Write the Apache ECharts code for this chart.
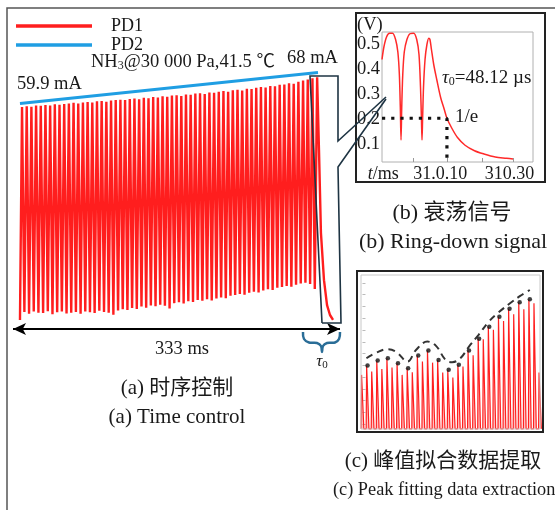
<!DOCTYPE html>
<html><head><meta charset="utf-8">
<script src="https://cdn.jsdelivr.net/npm/echarts@6/dist/echarts.min.js"></script>
<style>html,body{margin:0;padding:0;background:#fff}#c{width:555px;height:510px}</style>
</head><body><div id="c"></div>
<script>
// ---------- (a) time control: PD1 oscillation peaks / troughs (mA scale), PD2 ramp ----------
const legendNames = ['PD1', 'PD2'];
const firstPeakMs = 9.2;
const cycleMs = 4.77;
const startPoint = [7.1, 3.4];
const pd1Peaks = [
  59.0, 59.2, 59.1, 59.4, 59.3, 59.5, 59.4, 59.7, 59.6, 59.8,
  59.9, 60.1, 59.9, 60.2, 60.3, 60.2, 60.5, 60.6, 60.4, 60.7,
  60.8, 60.9, 60.8, 61.1, 61.2, 61.0, 61.4, 61.3, 61.6, 61.5,
  61.8, 61.7, 62.0, 62.1, 61.9, 62.3, 62.2, 62.5, 62.6, 62.4,
  62.8, 62.7, 63.0, 63.2, 63.0, 63.4, 63.5, 63.3, 63.8, 63.7,
  64.0, 64.2, 64.1, 64.5, 64.4, 64.8, 64.9, 65.2, 65.1, 65.6,
  65.9, 66.2, 66.5, 66.8];
const pd1Troughs = [
  5.5, 5.0, 5.6, 5.3, 5.2, 5.7, 4.9, 5.4, 5.6, 5.1,
  5.3, 5.5, 5.0, 5.6, 5.4, 5.2, 5.8, 5.5, 5.3, 4.8,
  5.9, 6.2, 6.0, 6.5, 6.3, 6.9, 6.6, 7.2, 7.0, 7.4,
  7.1, 6.4, 7.8, 8.0, 7.7, 8.3, 8.1, 8.6, 8.4, 8.8,
  8.5, 9.0, 9.3, 9.1, 9.7, 9.9, 10.2, 10.0, 10.5, 10.8,
  10.6, 11.1, 11.4, 11.2, 11.8, 12.0, 12.3, 12.1, 12.6, 12.9,
  13.1, 12.8, 11.5];
const decayMs = [311.6, 313.6, 316.7, 319.8, 322.8, 325.9];
const decayVal = [47.8, 26.1, 13.8, 7.3, 4.7, 3.4];
const pd2Ms = [7.1, 310.6];
const pd2Val = [59.9, 68];
const totalMs = 333;

// ---------- (b) ring-down signal ----------
const ringT = [0, 5, 12, 20, 28, 36, 42, 46, 48.5, 50.4, 52.3, 55, 59, 66, 74, 84, 92, 98, 102, 104.5, 106, 107.5, 110, 114, 119, 124, 127, 131, 137, 145, 155, 165, 172, 185, 200, 220, 245, 270, 300, 330, 347];
const ringV = [0.44, 0.49, 0.53, 0.545, 0.545, 0.52, 0.47, 0.38, 0.25, 0.118, 0.25, 0.38, 0.47, 0.52, 0.543, 0.545, 0.52, 0.46, 0.33, 0.2, 0.118, 0.2, 0.33, 0.44, 0.5, 0.525, 0.52, 0.48, 0.42, 0.36, 0.29, 0.24, 0.205, 0.165, 0.128, 0.097, 0.075, 0.062, 0.05, 0.045, 0.042];
const ringYLabels = [0.1, 0.2, 0.3, 0.4, 0.5];
const ringXTickVals = [3, 154, 338];
const ringXTickLabels = ['{i|t}/ms', '31.0.10', '310.30'];
const ringMinorTicks = [82, 172, 265, 347];
const ringLevel = 0.205;
const ringTau = 172;

// ---------- (c) peak fitting ----------
const cPeaks = [34.4, 40.3, 36.5, 43.5, 38.2, 45.0, 39.1, 41.8, 34.4, 38.6, 36.1, 46.7, 42.9, 49.9, 42.2, 43.9, 35.9, 37.6, 32.7, 40.8, 39.7, 49.9, 46.9, 57.5, 57.1, 65.0, 63.1, 71.5, 68.8, 76.6, 73.0, 80.7, 76.2, 82.6, 80.0, 35.9];
const envX = [0.78, 2.74, 5.0, 6.6, 8.9, 10.55, 12.8, 14.5, 16.4, 17.7, 19.3, 21.0, 22.9, 24.9, 26.8, 29.1, 31.1, 33.0];
const envY = [45.0, 48.6, 50.8, 49.2, 42.9, 50.3, 55.6, 52.9, 43.9, 42.5, 45.0, 52.4, 59.9, 68.3, 74.1, 80.0, 84.7, 88.5];
const cTicks = [3, 10.5, 18, 25.5, 33, 40.5, 48, 55.5, 63, 70.5, 78, 85.5, 93];

// ---------- build series data ----------
const mainData = [startPoint];
pd1Peaks.forEach((p, i) => {
  mainData.push([firstPeakMs + i * cycleMs, p]);
  if (i < pd1Troughs.length) mainData.push([firstPeakMs + (i + 0.5) * cycleMs, pd1Troughs[i]]);
});
decayMs.forEach((t, i) => mainData.push([t, decayVal[i]]));
const pd2Data = pd2Ms.map((t, i) => [t, pd2Val[i]]);
const ringData = ringT.map((t, i) => [t, ringV[i]]);
const cData = [];
cPeaks.forEach((p, i) => { cData.push([i - 0.27, 0], [i - 0.18, p], [i + 0.18, p], [i + 0.27, 0]); });
const cDots = cPeaks.map((p, i) => [i, p]).filter((d, i) => i % 2 === 1 && i < 35);
const envData = envX.map((x, i) => [x, envY[i]]);

const serif = "'Liberation Serif','Noto Sans CJK SC',serif";
const ink = '#1a1a1a';
const boxc = '#1e3443';
function T(x, y, text, size, align, extra) {
  return { type: 'text', z: 100, style: Object.assign({ x: x, y: y, text: text, fontSize: size, fontFamily: serif, fill: ink, align: align || 'left', verticalAlign: 'middle' }, extra || {}) };
}

const chart = echarts.init(document.getElementById('c'), null, { renderer: 'canvas' });
chart.setOption({
  animation: false,
  backgroundColor: '#fff',
  legend: {
    data: legendNames, orient: 'vertical', left: 11, top: 12, icon: 'rect',
    itemWidth: 76, itemHeight: 3.5, itemGap: 1,
    textStyle: { fontFamily: serif, fontSize: 18, color: ink, lineHeight: 16, padding: [2, 0, 0, 14] }
  },
  grid: [
    { left: 13, top: 60, width: 327, height: 273, show: false },
    { left: 382, top: 32, width: 151, height: 130, show: true, borderColor: '#b0b0b0', borderWidth: 1 },
    { left: 357, top: 271, width: 186, height: 161, show: true, borderColor: '#222', borderWidth: 2 }
  ],
  xAxis: [
    { gridIndex: 0, type: 'value', min: 0, max: totalMs, show: false },
    { gridIndex: 1, type: 'value', min: 0, max: 400, splitLine: { show: false }, axisLine: { show: false },
      axisTick: { show: true, inside: true, length: 4, customValues: ringMinorTicks, lineStyle: { color: '#999' } },
      axisLabel: { customValues: ringXTickVals, margin: 3, fontSize: 18, fontFamily: serif, color: ink,
        formatter: v => ringXTickLabels[ringXTickVals.indexOf(v)] || '',
        rich: { i: { fontStyle: 'italic', fontSize: 18, fontFamily: serif, color: ink } } } },
    { gridIndex: 2, type: 'value', min: -1.08, max: 35.6, show: false }
  ],
  yAxis: [
    { gridIndex: 0, type: 'value', min: 0, max: 71.28, show: false },
    { gridIndex: 1, type: 'value', min: 0.03, max: 0.55, splitLine: { show: false }, axisLine: { show: false }, axisTick: { show: false },
      axisLabel: { customValues: ringYLabels, margin: 2, fontSize: 18.5, fontFamily: serif, color: ink, formatter: v => v.toFixed(1) } },
    { gridIndex: 2, type: 'value', min: -2, max: 100.6, splitLine: { show: false }, axisLine: { show: false }, axisLabel: { show: false },
      axisTick: { show: true, inside: true, length: 3, customValues: cTicks, lineStyle: { color: '#bbb' } } }
  ],
  series: [
    { name: 'PD1', type: 'line', xAxisIndex: 0, yAxisIndex: 0, data: mainData, showSymbol: false, z: 3,
      lineStyle: { color: '#ff1e1e', width: 2.4 }, itemStyle: { color: '#ff1e1e' },
      markLine: { silent: true, symbol: ['arrow', 'arrow'], symbolSize: [9, 13], label: { show: false },
        lineStyle: { color: '#000', width: 2, type: 'solid' },
        data: [[{ coord: [0, 1.04] }, { coord: [totalMs, 1.04] }]] } },
    { name: 'PD2', type: 'line', xAxisIndex: 0, yAxisIndex: 0, data: pd2Data, showSymbol: false, z: 4,
      lineStyle: { color: '#1f9ee3', width: 3 }, itemStyle: { color: '#1f9ee3' } },
    { name: 'ring', type: 'line', xAxisIndex: 1, yAxisIndex: 1, data: ringData, showSymbol: false, smooth: 0.3,
      lineStyle: { color: '#ff2a2a', width: 1.5 } },
    { name: 'level', type: 'line', xAxisIndex: 1, yAxisIndex: 1, showSymbol: false,
      data: [[0, ringLevel], [ringTau, ringLevel], [ringTau, 0.03]],
      lineStyle: { color: '#111', width: 3.2, type: [3.2, 6] } },
    { name: 'spikes', type: 'line', xAxisIndex: 2, yAxisIndex: 2, data: cData, showSymbol: false,
      lineStyle: { color: '#ff2020', width: 1.2 }, areaStyle: { color: 'rgba(255,80,80,0.5)' } },
    { name: 'env', type: 'line', xAxisIndex: 2, yAxisIndex: 2, data: envData, showSymbol: false, smooth: 0.4, z: 4,
      lineStyle: { color: '#333', width: 2, type: [7, 5] } },
    { name: 'dots', type: 'scatter', xAxisIndex: 2, yAxisIndex: 2, data: cDots, symbolSize: 4.5, z: 5,
      itemStyle: { color: '#111' } }
  ],
  graphic: [
    { type: 'polyline', z: 90, shape: { points: [[7, 510], [7, 8], [555, 8]] }, style: { stroke: '#555', lineWidth: 1.5, fill: null } },
    { type: 'polyline', z: 90, shape: { points: [[322, 323], [310, 76], [338, 76], [338, 141], [386, 97]] }, style: { stroke: boxc, lineWidth: 1.6, fill: null } },
    { type: 'polyline', z: 90, shape: { points: [[386, 99], [338, 167], [341, 323], [322, 323]] }, style: { stroke: boxc, lineWidth: 1.6, fill: null } },
    { type: 'rect', z: 80, shape: { x: 356, y: 13, width: 189, height: 169 }, style: { stroke: '#222', lineWidth: 2, fill: null } },
    { type: 'rect', z: 80, shape: { x: 361, y: 275, width: 179, height: 154 }, style: { stroke: '#c8c8c8', lineWidth: 1, fill: null } },
    { type: 'polyline', z: 90, shape: { points: [[303, 332], [304, 339], [309, 342.5], [317, 343], [321, 346], [322, 352], [323, 346], [327, 343], [335, 342.5], [339, 339], [340, 332]], smooth: 0.4 },
      style: { stroke: '#2a6d97', lineWidth: 2.5, fill: null } },
    T(322, 362, '{t|τ}{s|0}', 16, 'center', { rich: { t: { fontStyle: 'italic', fontSize: 17, fontFamily: serif, fill: ink }, s: { fontSize: 11, fontFamily: serif, fill: ink, padding: [7, 0, 0, 0] } } }),
    T(91, 62, '{a|NH}{s|3}{a|@30 000 Pa,41.5 ℃}', 18, 'left', { rich: { a: { fontSize: 18.5, fontFamily: serif, fill: ink }, s: { fontSize: 12, fontFamily: serif, fill: ink, padding: [8, 0, 0, 0] } } }),
    T(17, 84, '59.9 mA', 18.5),
    T(287, 58, '68 mA', 18.5),
    T(182, 349, '333 ms', 18.5, 'center'),
    T(177, 388, '(a) 时序控制', 21, 'center'),
    T(177, 417, '(a) Time control', 21, 'center'),
    T(357, 25, '(V)', 18.5),
    T(442, 78, '{t|τ}{s|0}{a|=48.12 µs}', 18, 'left', { rich: { t: { fontStyle: 'italic', fontSize: 19, fontFamily: serif, fill: ink }, s: { fontSize: 12, fontFamily: serif, fill: ink, padding: [8, 0, 0, 0] }, a: { fontSize: 19, fontFamily: serif, fill: ink } } }),
    T(455, 117, '1/e', 19),
    T(452, 213, '(b) 衰荡信号', 22, 'center'),
    T(453, 242, '(b) Ring-down signal', 22, 'center'),
    T(443, 461, '(c) 峰值拟合数据提取', 21, 'center'),
    T(333, 490, '(c) Peak fitting data extraction', 18.3, 'left')
  ]
});
</script></body></html>
